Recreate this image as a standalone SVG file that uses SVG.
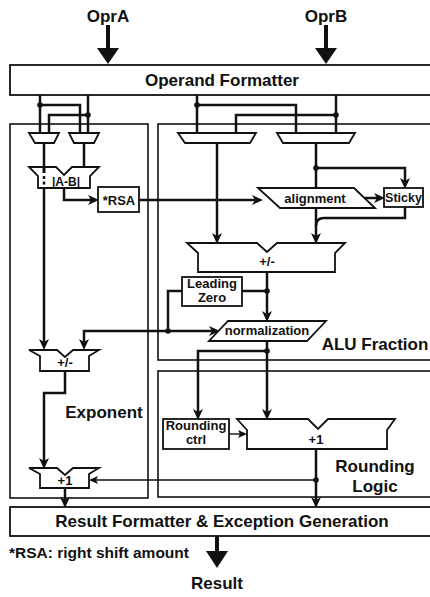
<svg xmlns="http://www.w3.org/2000/svg" width="430" height="597" viewBox="0 0 430 597">
<style>
text{font-family:"Liberation Sans",Arial,sans-serif;font-weight:bold;fill:#111;text-anchor:middle}
.box{fill:#fff;stroke:#111;stroke-width:1.8}
.reg{fill:none;stroke:#111;stroke-width:1.6}
.blk{fill:#fff;stroke:#111;stroke-width:1.8;stroke-linejoin:miter}
.w{fill:none;stroke:#111;stroke-width:2.5}
.wa{fill:none;stroke:#111;stroke-width:2.5;marker-end:url(#ah)}
.ta{fill:none;stroke:#111;stroke-width:1.4;marker-end:url(#ahs)}
.big{fill:none;stroke:#111;stroke-width:4}
.dot{fill:#111}
.t17{font-size:17px}
.t13{font-size:13px}
</style>
<defs>
<marker id="ah" markerUnits="userSpaceOnUse" markerWidth="11" markerHeight="10" refX="4" refY="5" orient="auto" viewBox="0 0 11 10">
<path d="M0,0 L11,5 L0,10 L3,5 z" fill="#111"/>
</marker>
<marker id="ahs" markerUnits="userSpaceOnUse" markerWidth="9" markerHeight="8" refX="3" refY="4" orient="auto" viewBox="0 0 9 8">
<path d="M0,0 L9,4 L0,8 L2,4 z" fill="#111"/>
</marker>
</defs>

<g id="regions">
<rect id="exponent-region" class="reg" x="10" y="124" width="138" height="374"/>
<rect id="alu-fraction-region" class="reg" x="158" y="124" width="280" height="236"/>
<rect id="rounding-logic-region" class="reg" x="158" y="371" width="280" height="126"/>
<text class="t17" x="104" y="418">Exponent</text>
<text class="t17" x="375" y="350">ALU Fraction</text>
<text class="t17" x="375" y="472">Rounding</text>
<text class="t17" x="375" y="492">Logic</text>
</g>

<g id="connectors">
<line class="big" x1="108" y1="25" x2="108" y2="50"/>
<polygon class="dot" points="97,48 119,48 108,64"/>
<line class="big" x1="326" y1="25" x2="326" y2="50"/>
<polygon class="dot" points="315,48 337,48 326,64"/>
<line class="big" x1="217" y1="536" x2="217" y2="553"/>
<polygon class="dot" points="206,551 228,551 217,568"/>
<path class="w" d="M40,95 V133 M40,105 H80 V133 M88,95 V133 M88,115 H49 V133"/>
<circle class="dot" cx="40" cy="105" r="2.8"/>
<circle class="dot" cx="88" cy="115" r="2.8"/>
<path class="w" d="M197,95 V133 M197,105 H296 V133 M336,95 V133 M336,115 H236 V133"/>
<circle class="dot" cx="197" cy="105" r="2.8"/>
<circle class="dot" cx="336" cy="115" r="2.8"/>
<path class="wa" d="M44,143 V343"/>
<path class="w" d="M84,143 V167"/>
<path class="wa" d="M64,188 V200 H92"/>
<path class="wa" d="M139,200 H256"/>
<path class="wa" d="M217,143 V237"/>
<path class="w" d="M316,143 V188"/>
<circle class="dot" cx="316" cy="168" r="2.8"/>
<path class="wa" d="M316,168 H405 V182"/>
<path class="wa" d="M365,198 H378"/>
<path class="w" d="M405,207 V218 H324 Q316,218 316,226"/>
<path class="wa" d="M316,208 V237"/>
<path class="wa" d="M267,272 V315"/>
<circle class="dot" cx="267" cy="291" r="2.8"/>
<path class="w" d="M267,291 H242 M182,291 H168 V331"/>
<circle class="dot" cx="168" cy="331" r="2.8"/>
<path class="wa" d="M168,331 H213"/>
<path class="wa" d="M168,331 H84 V343"/>
<path class="wa" d="M267,341 V413"/>
<circle class="dot" cx="267" cy="351" r="2.8"/>
<path class="wa" d="M267,351 H198 V413"/>
<path class="ta" d="M229,434 H241"/>
<path class="wa" d="M316,449 V501"/>
<circle class="dot" cx="316" cy="480" r="2.8"/>
<path class="ta" d="M316,480 H95"/>
<path class="wa" d="M65,371 V393 H44 V462"/>
<path class="wa" d="M65,488 V501"/>
</g>

<g id="operand-formatter">
<rect class="box" x="10" y="65" width="428" height="30"/>
<text class="t17" x="222" y="86">Operand Formatter</text>
<text class="t17" x="108" y="22">OprA</text>
<text class="t17" x="326" y="22">OprB</text>
</g>

<g id="exp-mux-a"><polygon class="blk" points="29,133 59,133 54,143 35,143"/></g>
<g id="exp-mux-b"><polygon class="blk" points="69,133 99,133 94,143 74,143"/></g>
<g id="frac-mux-a"><polygon class="blk" points="178,133 256,133 250,143 185,143"/></g>
<g id="frac-mux-b"><polygon class="blk" points="277,133 355,133 349,143 283,143"/></g>

<g id="a-minus-b">
<path class="blk" d="M29,167 H56 L64,175 L72,167 H99 L90,176 V188 H38 V176 Z"/>
<line x1="44" y1="176" x2="44" y2="188" stroke="#111" stroke-width="2.5" stroke-dasharray="3,2.5"/>
<rect x="42.5" y="167" width="3" height="6" fill="#111"/>
<text x="66" y="186" style="font-size:12px">|A-B|</text>
</g>

<g id="rsa">
<rect class="box" x="98" y="187" width="41" height="25"/>
<text x="119" y="205" style="font-size:13px">*RSA</text>
</g>

<g id="alignment">
<polygon class="blk" points="258,188 354,188 375,208 280,208"/>
<text class="t13" x="315" y="203">alignment</text>
</g>

<g id="sticky">
<rect class="box" x="384" y="188" width="39" height="19"/>
<text x="403.5" y="202" style="font-size:12.5px">Sticky</text>
</g>

<g id="frac-add">
<path class="blk" d="M187,243 H257 L267,252 L277,243 H345 L335,253 V272 H198 V253 Z"/>
<text class="t13" x="267" y="266">+/-</text>
</g>

<g id="leading-zero">
<rect class="box" x="182" y="277" width="60" height="29"/>
<text class="t13" x="212" y="288">Leading</text>
<text class="t13" x="212" y="302">Zero</text>
</g>

<g id="normalization">
<polygon class="blk" points="228,321 326,321 307,341 209,341"/>
<text class="t13" x="267" y="335">normalization</text>
</g>

<g id="exp-add">
<path class="blk" d="M29,350 H57 L65,357 L73,350 H99 L89,356 V371 H40 V356 Z"/>
<text class="t13" x="65" y="367">+/-</text>
</g>

<g id="rounding-ctrl">
<rect class="box" x="163" y="419" width="66" height="30"/>
<text class="t13" x="196" y="430">Rounding</text>
<text class="t13" x="196" y="444">ctrl</text>
</g>

<g id="round-inc">
<path class="blk" d="M237,419 H308 L318,429 L328,419 H395 L387,430 V449 H247 V430 Z"/>
<text class="t13" x="316" y="444">+1</text>
</g>

<g id="exp-inc">
<path class="blk" d="M29,468 H57 L65,475 L73,468 H99 L89,474 V488 H40 V474 Z"/>
<text class="t13" x="65" y="485">+1</text>
</g>

<g id="result-formatter">
<rect class="box" x="10" y="507" width="428" height="29"/>
<text class="t17" x="222" y="527">Result Formatter &amp; Exception Generation</text>
</g>

<g id="footer">
<text x="9" y="558" style="font-size:15.5px;text-anchor:start">*RSA: right shift amount</text>
<text class="t17" x="217" y="589">Result</text>
</g>
</svg>
